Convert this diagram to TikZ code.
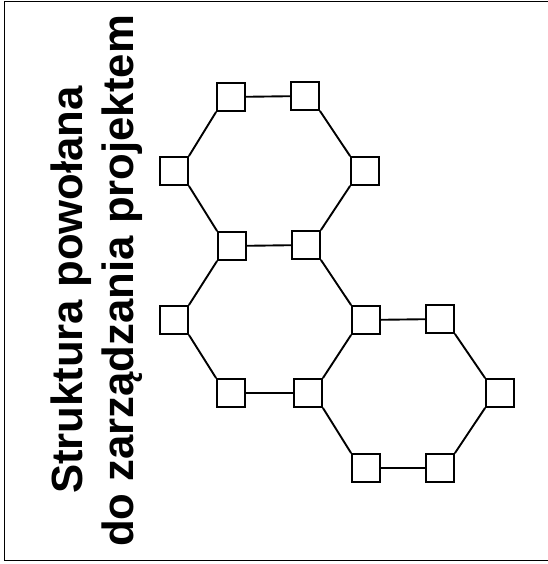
\documentclass[tikz,border=0pt]{standalone}
\usepackage{fontspec}
\setmainfont{Liberation Sans}

\begin{document}
\begin{tikzpicture}[x=1pt,y=-1pt,
  box/.style={draw,fill=white,line width=1.8pt,minimum size=28pt,inner sep=0pt},
  link/.style={line width=1.9pt},
  caption/.style={rotate=90,anchor=base,inner sep=0pt,font=\fontsize{43.7}{51}\selectfont\bfseries}]
  \useasboundingbox (0,0) rectangle (547,564);
  \draw[line width=1pt] (4,2) rectangle (552,560);
  % title
  \node[caption] (t1) at (82,290) {Struktura powołana};
  \node[caption] (t2) at (133,281) {do zarządzania projektem};
  % upper ring
  \node[box] (p1) at (231,97) {};
  \node[box] (p2) at (305,96) {};
  \node[box] (p3) at (365,171) {};
  \node[box] (p4) at (306,245) {};
  \node[box] (p5) at (232,246) {};
  \node[box] (p6) at (174,171) {};
  % middle ring
  \node[box] (p7) at (366,320) {};
  \node[box] (p8) at (308,393) {};
  \node[box] (p9) at (231,393) {};
  \node[box] (p10) at (174,320) {};
  % lower ring
  \node[box] (p11) at (440,319) {};
  \node[box] (p12) at (500,393) {};
  \node[box] (p13) at (440,468) {};
  \node[box] (p14) at (366,468) {};
  \draw[link] (p1) -- (p2);
  \draw[link] (p2.south east) -- (p3.north west);
  \draw[link] (p3.south west) -- (p4.north east);
  \draw[link] (p4) -- (p5);
  \draw[link] (p5.north west) -- (p6.south east);
  \draw[link] (p6.north east) -- (p1.south west);
  \draw[link] (p4.south east) -- (p7.north west);
  \draw[link] (p7.south west) -- (p8.north east);
  \draw[link] (p8) -- (p9);
  \draw[link] (p9.north west) -- (p10.south east);
  \draw[link] (p10.north east) -- (p5.south west);
  \draw[link] (p7) -- (p11);
  \draw[link] (p11.south east) -- (p12.north west);
  \draw[link] (p12.south west) -- (p13.north east);
  \draw[link] (p13) -- (p14);
  \draw[link] (p14.north west) -- (p8.south east);
\end{tikzpicture}
\end{document}
